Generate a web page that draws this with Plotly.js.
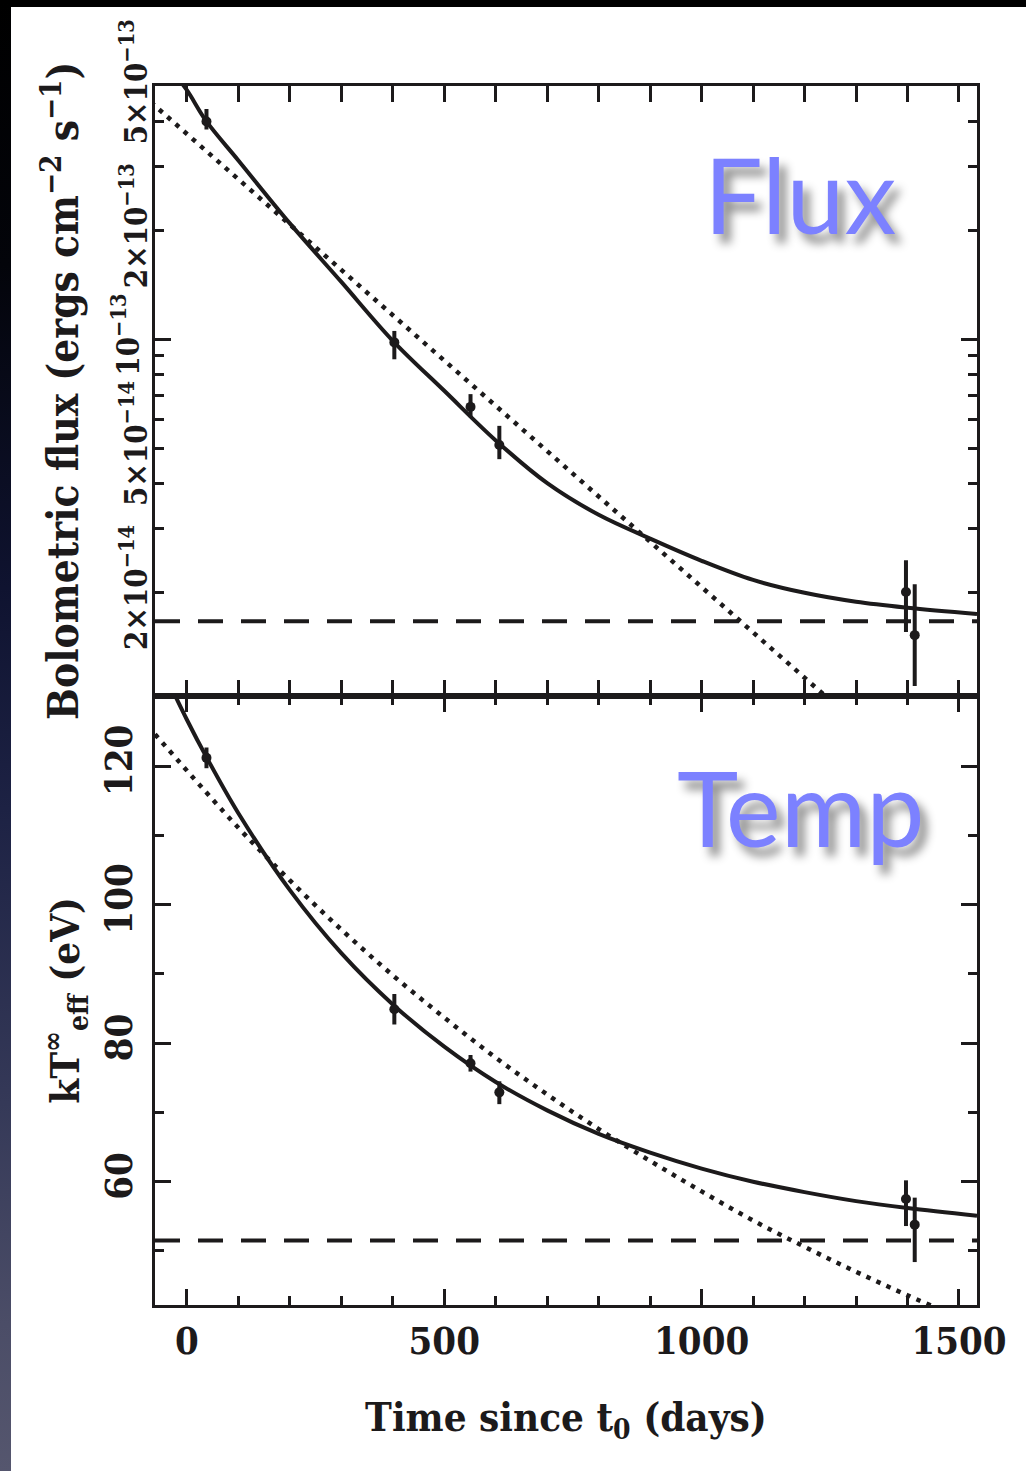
<!DOCTYPE html>
<html>
<head>
<meta charset="utf-8">
<script src="https://cdn.plot.ly/plotly-3.0.1.min.js"></script>
<style>
  html, body { margin: 0; padding: 0; background: #ffffff; }
  #wrap { position: relative; width: 1026px; height: 1471px; overflow: hidden; background: #ffffff; }
  #chart { position: absolute; left: 0; top: 0; width: 1026px; height: 1471px; }
  #topband { position: absolute; left: 0; top: 0; width: 1026px; height: 7px; background: #000; }
  #leftband {
    position: absolute; left: 0; top: 0; width: 11px; height: 1471px;
    background: linear-gradient(to bottom, #000000 0%, #03040a 18%, #0f1330 40%, #1d2244 55%, #353958 75%, #4b4d67 90%, #55566e 100%);
  }
</style>
</head>
<body>
<div id="wrap">
  <div id="chart"></div>
  <div id="topband"></div>
  <div id="leftband"></div>
</div>
<script>
// Observation epochs, days since t0
const obsDays = [38, 403, 551, 607, 1397, 1414];

// Bolometric flux (ergs cm^-2 s^-1) with asymmetric error bars
const fluxObs      = [4.0e-13, 9.8e-14, 6.5e-14, 5.1e-14, 2.0e-14, 1.52e-14];
const fluxErrPlus  = [3.3e-14, 7.4e-15, 5.5e-15, 6.6e-15, 4.5e-15, 5.8e-15];
const fluxErrMinus = [2.0e-14, 1.0e-14, 4.1e-15, 4.4e-15, 4.5e-15, 4.2e-15];

// Effective temperature kT (eV) with asymmetric error bars
const tempObs      = [121.2, 84.9, 77.1, 72.9, 57.5, 53.8];
const tempErrPlus  = [1.5, 2.2, 1.2, 1.6, 2.7, 3.9];
const tempErrMinus = [1.5, 2.2, 1.2, 1.7, 3.9, 5.4];

// Exponential-plus-constant cooling model, sampled in time
const modelDays = [-30, 0, 38, 100, 200, 300, 400, 500, 600, 700, 800, 900, 1000, 1100, 1200, 1300, 1400, 1535];
const fluxModel = [5.54e-13, 4.88e-13, 4.0e-13, 3.12e-13, 2.09e-13, 1.44e-13, 9.9e-14, 7.2e-14, 5.25e-14,
                   4.0e-14, 3.27e-14, 2.81e-14, 2.44e-14, 2.16e-14, 1.99e-14, 1.88e-14, 1.81e-14, 1.74e-14];
const tempModel = [131.3, 126.7, 121.3, 113.2, 102.1, 93.0, 85.6, 79.5, 74.4,
                   70.3, 66.9, 64.2, 61.9, 60.0, 58.5, 57.2, 56.2, 55.1];

// Pure exponential decline (no floor)
const fluxExpDays = [-70, 1260];
const fluxExp     = [4.52e-13, 9.75e-15];
const tempExpDays = [-62, 100, 200, 300, 400, 500, 600, 700, 800, 900, 1000, 1100, 1200, 1300, 1400, 1500];
const tempExp     = [124.6, 111.1, 103.5, 96.4, 89.8, 83.7, 77.9, 72.6, 67.6, 63.0, 58.6, 54.4, 50.6, 47.0, 43.6, 40.4];

// Quiescent floor levels
const floorDays = [-62, 1535];
const fluxFloor = [1.66e-14, 1.66e-14];
const tempFloor = [51.5, 51.5];

// Tick labels for the logarithmic flux axis
const fluxTickVals = [2e-14, 5e-14, 2e-13, 5e-13];
const fluxTickText = ['2×10<sup>−14</sup>', '5×10<sup>−14</sup>', '2×10<sup>−13</sup>', '5×10<sup>−13</sup>'];
const fluxDecadeVals = [1e-14, 1e-13];
const fluxDecadeText = ['', '10<sup>−13</sup>'];
const fluxMinorVals = [3e-14, 4e-14, 6e-14, 7e-14, 8e-14, 9e-14, 3e-13, 4e-13];

const INK = '#1c1a1b';
const LABEL_FONT = 'DejaVu Serif Condensed, DejaVu Serif, serif';

function points(x, y, plus, minus, xa, ya) {
  return {
    x: x, y: y, xaxis: xa, yaxis: ya, type: 'scatter', mode: 'markers',
    marker: { color: INK, size: 10 },
    error_y: { type: 'data', symmetric: false, array: plus, arrayminus: minus,
               color: INK, thickness: 4, width: 0 },
    cliponaxis: true, hoverinfo: 'skip'
  };
}
function line(x, y, xa, ya, dash, width, shape) {
  return {
    x: x, y: y, xaxis: xa, yaxis: ya, type: 'scatter', mode: 'lines',
    line: { color: INK, width: width, dash: dash, shape: shape || 'linear', smoothing: 1 },
    hoverinfo: 'skip'
  };
}

const traces = [
  // top panel: flux
  line(modelDays, fluxModel, 'x2', 'y2', 'solid', 4, 'spline'),
  line(fluxExpDays, fluxExp, 'x2', 'y2', '4.5px,6.5px', 4.5),
  line(floorDays, fluxFloor, 'x2', 'y2', '25px,18px', 4),
  points(obsDays, fluxObs, fluxErrPlus, fluxErrMinus, 'x2', 'y2'),
  // label axis for the flux panel carries the same floor level, undrawn
  { x: floorDays, y: fluxFloor, xaxis: 'x2', yaxis: 'y3', type: 'scatter', mode: 'lines',
    line: { width: 0, color: 'rgba(0,0,0,0)' }, hoverinfo: 'skip' },
  // bottom panel: temperature
  line(modelDays, tempModel, 'x', 'y', 'solid', 4, 'spline'),
  line(tempExpDays, tempExp, 'x', 'y', '4.5px,6.5px', 4.5, 'spline'),
  line(floorDays, tempFloor, 'x', 'y', '25px,18px', 4),
  points(obsDays, tempObs, tempErrPlus, tempErrMinus, 'x', 'y')
];

const frame = {
  showline: true, linecolor: INK, linewidth: 3, mirror: 'allticks',
  ticks: 'inside', tickcolor: INK, tickwidth: 3,
  showgrid: false, zeroline: false
};

const xCommon = Object.assign({}, frame, {
  range: [-62, 1535], tickmode: 'linear', tick0: 0, dtick: 500, ticklen: 16,
  minor: { ticks: 'inside', dtick: 100, tick0: 0, ticklen: 9, tickwidth: 3, tickcolor: INK, showgrid: false }
});

const layout = {
  width: 1026, height: 1471,
  margin: { l: 155, r: 49, t: 86, b: 166 },
  paper_bgcolor: 'rgba(0,0,0,0)', plot_bgcolor: '#ffffff',
  showlegend: false,
  font: { family: LABEL_FONT, color: INK, weight: 'bold' },
  xaxis: Object.assign({}, xCommon, {
    anchor: 'y',
    tickfont: { family: LABEL_FONT, size: 38, color: INK, weight: 'bold' },
    ticklabelstandoff: 0,
    title: { text: 'Time since t<sub>0</sub> (days)', standoff: 42,
             font: { family: LABEL_FONT, size: 40, color: INK, weight: 'bold' } }
  }),
  xaxis2: Object.assign({}, xCommon, {
    anchor: 'y2', matches: 'x', showticklabels: false
  }),
  yaxis: Object.assign({}, frame, {
    domain: [0, 0.5], anchor: 'x',
    range: [42.2, 130.2], tickmode: 'linear', tick0: 0, dtick: 20, ticklen: 16,
    minor: { ticks: 'inside', dtick: 10, tick0: 0, ticklen: 9, tickwidth: 3, tickcolor: INK, showgrid: false },
    tickangle: -90,
    tickfont: { family: LABEL_FONT, size: 38, color: INK, weight: 'bold' },
    ticklabelstandoff: 5,
    title: { text: 'kT<sup>∞</sup><sub>eff</sub> (eV)', standoff: 4,
             font: { family: LABEL_FONT, size: 40, color: INK, weight: 'bold' } }
  }),
  yaxis2: Object.assign({}, frame, {
    domain: [0.5, 1], anchor: 'x2', type: 'log',
    range: [-13.985, -12.30],
    tickmode: 'array', tickvals: fluxDecadeVals, ticktext: fluxDecadeText, ticklen: 16,
    minor: { ticks: 'inside', tickvals: fluxMinorVals.concat(fluxTickVals), ticklen: 9, tickwidth: 3, tickcolor: INK, showgrid: false },
    tickangle: -90,
    tickfont: { family: LABEL_FONT, size: 31, color: INK, weight: 'bold' },
    ticklabelstandoff: 1,
    title: { text: 'Bolometric flux (ergs cm<sup>−2</sup> s<sup>−1</sup>)', standoff: 14,
             font: { family: LABEL_FONT, size: 42, color: INK, weight: 'bold' } }
  }),
  yaxis3: {
    overlaying: 'y2', anchor: 'x2', side: 'left', type: 'log',
    range: [-13.985, -12.30], showline: false, showgrid: false, zeroline: false,
    tickmode: 'array', tickvals: fluxTickVals, ticktext: fluxTickText, ticks: '',
    tickangle: -90, ticklabelstandoff: 1,
    tickfont: { family: LABEL_FONT, size: 31, color: INK, weight: 'bold' }
  },
  annotations: [
    { text: 'Flux', xref: 'paper', yref: 'paper', x: 0.785, y: 0.912, showarrow: false,
      xanchor: 'center', yanchor: 'middle',
      font: { family: 'Lato, Open Sans, sans-serif', size: 104, color: '#7c81ff', weight: 'normal',
              shadow: '7px 9px 10px rgba(0,0,0,0.45)' } },
    { text: 'Temp', xref: 'paper', yref: 'paper', x: 0.785, y: 0.409, showarrow: false,
      xanchor: 'center', yanchor: 'middle',
      font: { family: 'Lato, Open Sans, sans-serif', size: 104, color: '#7c81ff', weight: 'normal',
              shadow: '7px 9px 10px rgba(0,0,0,0.45)' } }
  ]
};

Plotly.newPlot('chart', traces, layout, { staticPlot: true, displayModeBar: false });
</script>
</body>
</html>
